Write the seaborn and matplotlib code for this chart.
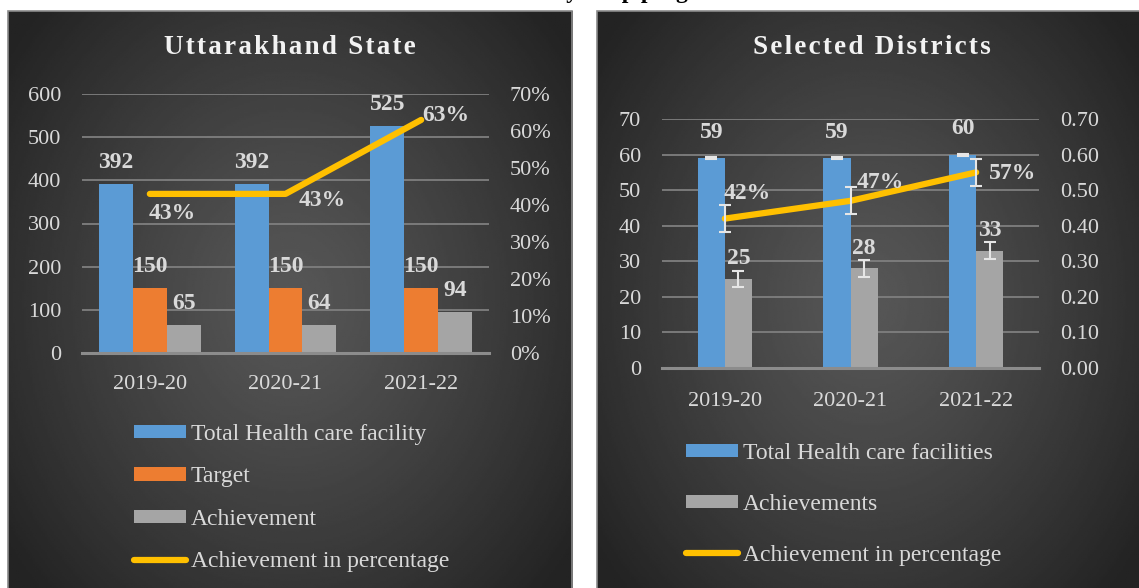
import numpy as np
import pandas as pd
import matplotlib.pyplot as plt
import seaborn as sns
from matplotlib.patches import Patch, Rectangle
from matplotlib.lines import Line2D
from matplotlib.ticker import FuncFormatter

plt.rcParams['font.family'] = ['Liberation Serif', 'DejaVu Serif']

# ---- data ----
years = ['2019-20', '2020-21', '2021-22']

state_total = [392, 392, 525]
state_target = [150, 150, 150]
state_achieved = [65, 64, 94]
state_pct = [0.43, 0.43, 0.63]
state_pct_labels = ['43%', '43%', '63%']

dist_total = [59, 59, 60]
dist_achieved = [25, 28, 33]
dist_pct = [0.42, 0.47, 0.55]
dist_pct_labels = ['42%', '47%', '57%']
dist_total_err = [0.3, 0.3, 0.3]
dist_achieved_err = [2.3, 2.3, 2.3]
dist_pct_err = [0.038, 0.038, 0.038]

BLUE, ORANGE, GREY, YELLOW = '#5B9BD5', '#ED7D31', '#A5A5A5', '#FFC000'
TXT = '#D9D9D9'
GRID = '#7F7F7F'
TICK_FS = 16
LBL_FS = 17
LEG_FS = 17

W, H = 1139, 588
fig = plt.figure(figsize=(W / 100, H / 100), dpi=100)
fig.patch.set_facecolor('white')


def px_axes(x0, y0, x1, y1):
    # pixel box measured from the top-left corner
    return fig.add_axes([x0 / W, 1 - y1 / H, (x1 - x0) / W, (y1 - y0) / H])


def panel_bg(x0, x1):
    bg = px_axes(x0, 11, x1, 590)
    yy, xx = np.mgrid[0:1:300j, 0:1:300j]
    r = np.sqrt(((xx - 0.5) / 0.62) ** 2 + ((yy - 0.5) / 0.72) ** 2)
    shade = 0.34 - 0.20 * np.clip(r, 0, 1) ** 1.2
    bg.imshow(shade, cmap='gray', vmin=0, vmax=1, extent=[0, 1, 0, 1], aspect='auto')
    bg.set_xlim(0, 1)
    bg.set_ylim(0, 1)
    bg.axis('off')
    bg.add_patch(Rectangle((0, 0), 1, 1, fill=False, edgecolor='#8a8a8a', lw=1.2,
                           transform=bg.transAxes, clip_on=False))


def spaced(s):
    return '\u200a'.join(s)


def style_axes(ax, ax2):
    ax.set_facecolor('none')
    ax.set_xlim(-0.5, len(years) - 0.5)
    ax.set_xlabel('')
    ax.set_ylabel('')
    for s in ['top', 'left', 'right']:
        ax.spines[s].set_visible(False)
    ax.spines['bottom'].set_color('#8C8C8C')
    ax.spines['bottom'].set_linewidth(2.2)
    ax.yaxis.grid(True, color=GRID, lw=1.3)
    ax.set_axisbelow(True)
    ax.tick_params(axis='y', length=0, colors=TXT, labelsize=TICK_FS, pad=15)
    ax.tick_params(axis='x', length=0, colors=TXT, labelsize=TICK_FS, pad=16)
    for s in ax2.spines.values():
        s.set_visible(False)
    ax2.tick_params(axis='y', length=0, colors=TXT, labelsize=TICK_FS, pad=15)
    ax2.set_ylabel('')


panel_bg(8, 572)
panel_bg(597, 1140)

# caption of the source page, cut off at the top edge as in the original
fig.text(0.5, 1 + 2 / H,
         'Chart 4.1: Current Status of achievements under Kayakalp program in the State and the selected districts',
         ha='center', va='baseline', fontsize=17, fontweight='bold', color='black')

fig.text(290 / W, 1 - 47 / H, spaced('Uttarakhand State'), ha='center', va='center',
         fontsize=19.5, fontweight='bold', color='#F2F2F2')
fig.text(872 / W, 1 - 47 / H, spaced('Selected Districts'), ha='center', va='center',
         fontsize=19.5, fontweight='bold', color='#F2F2F2')

# ---------------- left panel ----------------
state_names = ['Total Health care facility', 'Target', 'Achievement']
state_df = pd.DataFrame({
    'year': years * 3,
    'series': np.repeat(state_names, len(years)),
    'value': state_total + state_target + state_achieved,
})

ax = px_axes(82, 94, 489, 353)
sns.barplot(data=state_df, x='year', y='value', hue='series', hue_order=state_names,
            palette=[BLUE, ORANGE, GREY], saturation=1, width=0.75, errorbar=None,
            linewidth=0, legend=False, ax=ax)
ax.set_ylim(0, 600)
ax.set_yticks(range(0, 601, 100))
ax2 = ax.twinx()
sns.lineplot(x=np.arange(len(years)), y=state_pct, ax=ax2, color=YELLOW, lw=4.5,
             solid_capstyle='round')
ax2.set_ylim(0, 0.7)
ax2.set_yticks(np.arange(0, 0.71, 0.1))
ax2.yaxis.set_major_formatter(FuncFormatter(lambda v, p: f'{v:.0%}'))
style_axes(ax, ax2)

for c in ax.containers:
    ax.bar_label(c, fmt='{:.0f}', padding=8, color=TXT, fontsize=LBL_FS, fontweight='bold')
state_offsets = [(16.5, -14), (26.5, -4.5), (18, 3.5)]
for i, (v, lbl) in enumerate(zip(state_pct, state_pct_labels)):
    ax2.annotate(lbl, (i, v), xytext=state_offsets[i], textcoords='offset points',
                 ha='center', va='center', color=TXT, fontsize=LBL_FS, fontweight='bold')

fig.legend(handles=[Patch(facecolor=BLUE), Patch(facecolor=ORANGE), Patch(facecolor=GREY),
                    Line2D([0], [0], color=YELLOW, lw=4.5, solid_capstyle='round')],
           labels=state_names + ['Achievement in percentage'],
           loc='upper left', bbox_to_anchor=(134 / W, 1 - 424 / H), frameon=False,
           fontsize=LEG_FS, labelcolor=TXT, handlelength=2.2, handleheight=0.5,
           handletextpad=0.2, labelspacing=0.91, borderpad=0, borderaxespad=0)

# ---------------- right panel ----------------
dist_names = ['Total Health care facilities', 'Achievements']
dist_df = pd.DataFrame({
    'year': years * 2,
    'series': np.repeat(dist_names, len(years)),
    'value': dist_total + dist_achieved,
})

bx = px_axes(662, 119, 1039, 368)
sns.barplot(data=dist_df, x='year', y='value', hue='series', hue_order=dist_names,
            palette=[BLUE, GREY], saturation=1, width=0.43, errorbar=None,
            linewidth=0, legend=False, ax=bx)
bx.set_ylim(0, 70)
bx.set_yticks(range(0, 71, 10))
for c, err in zip(bx.containers, [dist_total_err, dist_achieved_err]):
    cx = [p.get_x() + p.get_width() / 2 for p in c]
    cy = [p.get_height() for p in c]
    bx.errorbar(cx, cy, yerr=err, fmt='none', ecolor='#E6E6E6', elinewidth=1.5,
                capsize=4.5, capthick=1.5)

bx2 = bx.twinx()
sns.lineplot(x=np.arange(len(years)), y=dist_pct, ax=bx2, color=YELLOW, lw=4.5,
             solid_capstyle='round')
bx2.errorbar(np.arange(len(years)), dist_pct, yerr=dist_pct_err, fmt='none',
             ecolor='#E6E6E6', elinewidth=1.5, capsize=4.5, capthick=1.5)
bx2.set_ylim(0, 0.7)
bx2.set_yticks(np.arange(0, 0.71, 0.1))
bx2.yaxis.set_major_formatter(FuncFormatter(lambda v, p: f'{v:.2f}'))
style_axes(bx, bx2)
bx.tick_params(axis='x', pad=17)

for c, pad in zip(bx.containers, [11, 7]):
    bx.bar_label(c, fmt='{:.0f}', padding=pad, color=TXT, fontsize=LBL_FS, fontweight='bold')
dist_offsets = [(16.5, 18), (21.5, 13.5), (26, -0.5)]
for i, (v, lbl) in enumerate(zip(dist_pct, dist_pct_labels)):
    bx2.annotate(lbl, (i, v), xytext=dist_offsets[i], textcoords='offset points',
                 ha='center', va='center', color=TXT, fontsize=LBL_FS, fontweight='bold')

fig.legend(handles=[Patch(facecolor=BLUE), Patch(facecolor=GREY),
                    Line2D([0], [0], color=YELLOW, lw=4.5, solid_capstyle='round')],
           labels=dist_names + ['Achievement in percentage'],
           loc='upper left', bbox_to_anchor=(686 / W, 1 - 443 / H), frameon=False,
           fontsize=LEG_FS, labelcolor=TXT, handlelength=2.2, handleheight=0.5,
           handletextpad=0.2, labelspacing=1.27, borderpad=0, borderaxespad=0)

fig.savefig('out.png', dpi=100)
